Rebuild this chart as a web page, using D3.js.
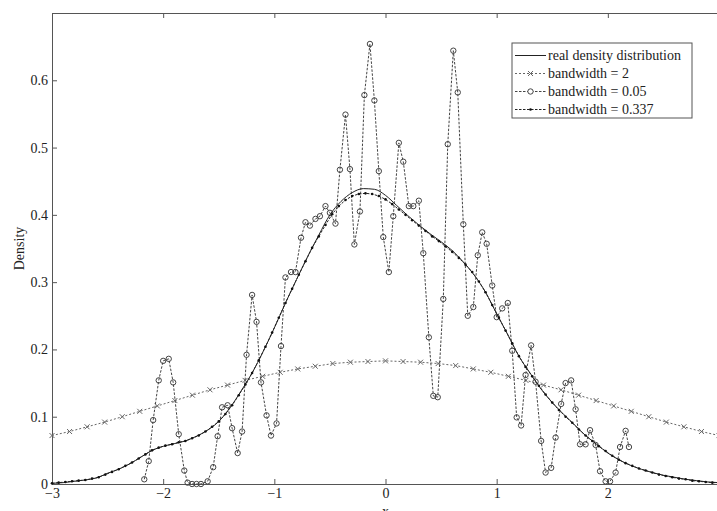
<!DOCTYPE html>
<html>
<head>
<meta charset="utf-8">
<script src="https://cdn.jsdelivr.net/npm/d3@7"></script>
<style>
    html, body { margin: 0; padding: 0; background: #fff; }
    svg { display: block; font-family: "Liberation Serif", "Times New Roman", serif; }
</style>
</head>
<body>
<div id="chart"></div>
<script>

// x ticks / y ticks
const xTicks = [-3, -2, -1, 0, 1, 2];
const yTicks = [0, 0.1, 0.2, 0.3, 0.4, 0.5, 0.6];

// real density, sampled every 0.1 from -3 to 3
const realDensity = [
    0.001, 0.002, 0.004, 0.006, 0.009, 0.016, 0.022, 0.030, 0.040, 0.050,
    0.056, 0.060, 0.064, 0.071, 0.080, 0.093, 0.113, 0.138, 0.165, 0.197,
    0.232, 0.269, 0.304, 0.338, 0.370, 0.400, 0.420, 0.433, 0.439, 0.438,
    0.429, 0.414, 0.399, 0.385, 0.372, 0.360, 0.347, 0.330, 0.310, 0.285,
    0.253, 0.222, 0.190, 0.165, 0.141, 0.121, 0.104, 0.088, 0.072, 0.059,
    0.046, 0.036, 0.028, 0.022, 0.017, 0.013, 0.010, 0.007, 0.005, 0.003,
    0.002
];

// bandwidth = 2, 39 points from -3 to 3
const bw2Density = [
    0.072, 0.078, 0.085, 0.092, 0.100, 0.108, 0.116, 0.124, 0.132, 0.140,
    0.147, 0.154, 0.160, 0.166, 0.171, 0.175, 0.179, 0.181, 0.182, 0.183,
    0.182, 0.181, 0.179, 0.176, 0.171, 0.166, 0.160, 0.154, 0.147, 0.140,
    0.132, 0.124, 0.116, 0.108, 0.100, 0.092, 0.085, 0.078, 0.072
];

// bandwidth = 0.05, evaluated near the samples
const bw005X = [
    -2.17, -2.13, -2.09, -2.04, -2.00, -1.95, -1.91, -1.86, -1.81, -1.78,
    -1.74, -1.70, -1.66, -1.60, -1.55, -1.51, -1.47, -1.42, -1.38, -1.33,
    -1.29, -1.25, -1.20, -1.16, -1.12, -1.07, -1.03, -0.98, -0.94, -0.90,
    -0.85, -0.81, -0.76, -0.72, -0.68, -0.63, -0.59, -0.54, -0.50, -0.45,
    -0.41, -0.36, -0.32, -0.28, -0.23, -0.19, -0.14, -0.10, -0.06, -0.02,
    0.03, 0.07, 0.12, 0.16, 0.21, 0.25, 0.30, 0.34, 0.39, 0.43,
    0.47, 0.52, 0.56, 0.61, 0.65, 0.70, 0.74, 0.79, 0.83, 0.87,
    0.91, 0.96, 1.00, 1.05, 1.10, 1.14, 1.18, 1.22, 1.26, 1.31,
    1.35, 1.40, 1.44, 1.49, 1.53, 1.58, 1.62, 1.67, 1.71, 1.75,
    1.80, 1.84, 1.89, 1.93, 1.98, 2.02, 2.07, 2.11, 2.16, 2.19
];
const bw005Density = [
    0.007, 0.034, 0.095, 0.154, 0.183, 0.186, 0.151, 0.074, 0.020, 0.002,
    0.000, 0.000, 0.000, 0.004, 0.025, 0.071, 0.114, 0.117, 0.083, 0.046,
    0.078, 0.192, 0.281, 0.241, 0.151, 0.102, 0.072, 0.090, 0.205, 0.307,
    0.315, 0.315, 0.366, 0.389, 0.384, 0.394, 0.398, 0.413, 0.403, 0.387,
    0.467, 0.549, 0.468, 0.356, 0.405, 0.578, 0.654, 0.570, 0.465, 0.367,
    0.315, 0.398, 0.507, 0.479, 0.413, 0.413, 0.421, 0.343, 0.218, 0.131,
    0.129, 0.275, 0.505, 0.644, 0.582, 0.386, 0.250, 0.263, 0.340, 0.374,
    0.357, 0.295, 0.248, 0.261, 0.269, 0.198, 0.099, 0.087, 0.162, 0.206,
    0.152, 0.064, 0.017, 0.024, 0.069, 0.119, 0.150, 0.154, 0.111, 0.059,
    0.059, 0.080, 0.058, 0.019, 0.004, 0.004, 0.017, 0.055, 0.079, 0.055
];

// bandwidth = 0.337, 101 points from -3 to 3
const bw0337Density = [
    0.001, 0.002, 0.003, 0.004, 0.005, 0.006, 0.008, 0.010, 0.014, 0.018,
    0.022, 0.027, 0.032, 0.038, 0.044, 0.050, 0.054, 0.057, 0.059, 0.062,
    0.064, 0.068, 0.072, 0.078, 0.085, 0.093, 0.104, 0.117, 0.132, 0.148,
    0.165, 0.184, 0.204, 0.225, 0.247, 0.269, 0.290, 0.311, 0.331, 0.351,
    0.368, 0.385, 0.401, 0.413, 0.422, 0.428, 0.431, 0.432, 0.431, 0.428,
    0.423, 0.416, 0.408, 0.400, 0.392, 0.384, 0.376, 0.368, 0.361, 0.353,
    0.345, 0.336, 0.326, 0.315, 0.301, 0.285, 0.266, 0.247, 0.228, 0.209,
    0.190, 0.174, 0.160, 0.146, 0.133, 0.121, 0.110, 0.100, 0.091, 0.081,
    0.072, 0.064, 0.056, 0.049, 0.042, 0.036, 0.031, 0.027, 0.023, 0.020,
    0.017, 0.014, 0.012, 0.010, 0.008, 0.007, 0.005, 0.004, 0.003, 0.002,
    0.002
];

const legendLabels = [
    'real density distribution',
    'bandwidth = 2',
    'bandwidth = 0.05',
    'bandwidth = 0.337'
];

const width = 717, height = 511;
const margin = { left: 52, top: 13, bottom: 27 };

// evenly spaced grid of n points on [-3, 3]
function grid(n) {
    return d3.range(n).map(i => -3 + 6 * i / (n - 1));
}

const real = grid(realDensity.length).map((x, i) => ({ x: x, y: realDensity[i] }));
const bw2 = grid(bw2Density.length).map((x, i) => ({ x: x, y: bw2Density[i] }));
const bw005 = bw005X.map((x, i) => ({ x: x, y: bw005Density[i] }));
const bw0337 = grid(bw0337Density.length).map((x, i) => ({ x: x, y: bw0337Density[i] }));

const x = d3.scaleLinear().domain([-3, 3]).range([margin.left, 719]);
const y = d3.scaleLinear().domain([0, 0.7]).range([height - margin.bottom, margin.top]);

const svg = d3.select('#chart')
    .append('svg')
    .attr('width', width)
    .attr('height', height);

const axisColor = '#555';

// axes (ticks point inward, like matlab)
const gx = svg.append('g')
    .attr('transform', `translate(0,${y(0)})`)
    .call(d3.axisBottom(x).tickValues(xTicks).tickFormat(d3.format('d'))
        .tickSize(-5).tickSizeOuter(0).tickPadding(4));

const gxTop = svg.append('g')
    .attr('transform', `translate(0,${y(0.7)})`)
    .call(d3.axisTop(x).tickValues(xTicks).tickFormat('')
        .tickSize(-5).tickSizeOuter(0));

const gy = svg.append('g')
    .attr('transform', `translate(${x(-3)},0)`)
    .call(d3.axisLeft(y).tickValues(yTicks).tickFormat(d => d === 0 ? '0' : d3.format('.1f')(d))
        .tickSize(-5).tickSizeOuter(0).tickPadding(4));

[gx, gxTop, gy].forEach(g => {
    g.selectAll('path, line').attr('stroke', axisColor).attr('stroke-width', 1);
    g.selectAll('text')
        .attr('fill', '#222')
        .style('font-family', '"Liberation Serif", serif')
        .style('font-size', '14px');
});

svg.append('text')
    .attr('x', x(0))
    .attr('y', 516)
    .attr('text-anchor', 'middle')
    .attr('fill', '#222')
    .style('font-size', '14px')
    .text('x');

svg.append('text')
    .attr('transform', `translate(24,${y(0.35)}) rotate(-90)`)
    .attr('text-anchor', 'middle')
    .attr('fill', '#222')
    .style('font-size', '14px')
    .text('Density');

const line = d3.line()
    .x(d => x(d.x))
    .y(d => y(d.y));

// bandwidth = 2
svg.append('path')
    .datum(bw2)
    .attr('fill', 'none')
    .attr('stroke', '#666')
    .attr('stroke-dasharray', '2,2')
    .attr('d', line);

svg.append('g')
    .selectAll('path')
    .data(bw2)
    .join('path')
    .attr('transform', d => `translate(${x(d.x)},${y(d.y)})`)
    .attr('d', 'M-2.5,-2.5L2.5,2.5M-2.5,2.5L2.5,-2.5')
    .attr('stroke', '#666')
    .attr('fill', 'none');

// bandwidth = 0.05
svg.append('path')
    .datum(bw005)
    .attr('fill', 'none')
    .attr('stroke', '#444')
    .attr('stroke-dasharray', '2.5,1.5')
    .attr('d', line);

svg.append('g')
    .selectAll('circle')
    .data(bw005)
    .join('circle')
    .attr('cx', d => x(d.x))
    .attr('cy', d => y(d.y))
    .attr('r', 2.7)
    .attr('fill', 'none')
    .attr('stroke', '#444');

// real density
svg.append('path')
    .datum(real)
    .attr('fill', 'none')
    .attr('stroke', '#222')
    .attr('stroke-width', 1)
    .attr('d', line.curve(d3.curveMonotoneX));

line.curve(d3.curveLinear);

// bandwidth = 0.337
svg.append('path')
    .datum(bw0337)
    .attr('fill', 'none')
    .attr('stroke', '#222')
    .attr('stroke-dasharray', '2.5,1.5')
    .attr('d', line);

svg.append('g')
    .selectAll('circle')
    .data(bw0337)
    .join('circle')
    .attr('cx', d => x(d.x))
    .attr('cy', d => y(d.y))
    .attr('r', 1.3)
    .attr('fill', '#111');

// legend
const legend = svg.append('g').attr('transform', 'translate(512,43)');

legend.append('rect')
    .attr('width', 180)
    .attr('height', 75)
    .attr('fill', '#fff')
    .attr('stroke', axisColor);

const rowY = [12.5, 30.5, 48.5, 66.5];
const rows = legend.selectAll('g.row')
    .data(legendLabels)
    .join('g')
    .attr('class', 'row')
    .attr('transform', (d, i) => `translate(0,${rowY[i]})`);

rows.append('line')
    .attr('x1', 3).attr('x2', 34)
    .attr('stroke', (d, i) => i === 0 ? '#222' : i === 1 ? '#666' : i === 2 ? '#444' : '#222')
    .attr('stroke-dasharray', (d, i) => i === 0 ? null : i === 1 ? '2,2' : '2.5,1.5');

rows.append('text')
    .attr('x', 36)
    .attr('dy', '0.32em')
    .attr('fill', '#222')
    .style('font-size', '14px')
    .text(d => d);

rows.filter((d, i) => i === 1).append('path')
    .attr('d', 'M16,-2.5L21,2.5M16,2.5L21,-2.5')
    .attr('stroke', '#666');
rows.filter((d, i) => i === 2).append('circle')
    .attr('cx', 18.5).attr('r', 2.7)
    .attr('fill', '#fff').attr('stroke', '#444');
rows.filter((d, i) => i === 3).append('circle')
    .attr('cx', 18.5).attr('r', 1.3)
    .attr('fill', '#111');

</script>
</body>
</html>
